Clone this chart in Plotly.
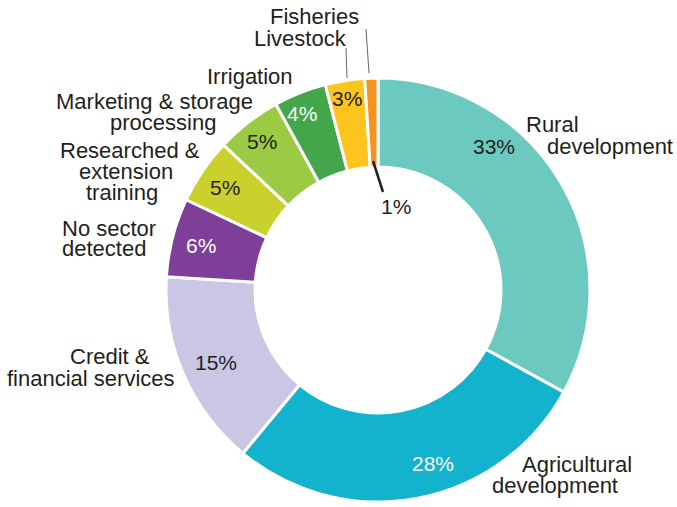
import plotly.graph_objects as go

# Share of spending by sector
sectors = [
    "Rural<br>development",
    "Agricultural<br>development",
    "Credit &<br>financial services",
    "No sector<br>detected",
    "Researched &<br>extension<br>training",
    "Marketing & storage<br>processing",
    "Irrigation",
    "Livestock",
    "Fisheries",
]
shares = [33, 28, 15, 6, 5, 5, 4, 3, 1]
colors = ["#6CC9BF", "#13B2CD", "#CAC7E4", "#7D3F98", "#CBD12C",
          "#9BCA43", "#44A64A", "#FDC41D", "#F6921E"]
pct_colors = ["#231F20", "#FFFFFF", "#231F20", "#FFFFFF", "#231F20",
              "#231F20", "#FFFFFF", "#231F20", "#231F20"]

W, H = 677, 507
CX, CY, R = 378, 290, 212

# Pixel positions of each line of the sector names
name_line_pos = [
    [(552, 124), (610, 146)],
    [(577, 464), (555, 485)],
    [(110, 356), (91, 378)],
    [(109, 228), (104, 248)],
    [(130, 151), (126, 172), (122, 193)],
    [(154, 101), (163, 122)],
    [(250, 76)],
    [(300, 39)],
    [(314, 17)],
]
# Pixel positions of the percentage labels
pct_pos = [(494, 146), (433, 463), (216, 362), (201, 245), (225, 187),
           (262, 141), (302, 113), (347, 98), (396, 206)]

# Leader lines (x0, y0, x1, y1, colour, width)
leaders = [
    (366, 29, 369, 73, "#666666", 1),
    (346, 48, 347, 78, "#666666", 1),
    (373, 161, 383, 192, "#231F20", 2.5),
]


def px(x):
    return x / W


def py(y):
    return 1 - y / H


FONT = "Liberation Sans, Arial, Helvetica, sans-serif"
TXT = "#231F20"

fig = go.Figure(go.Pie(
    labels=[s.replace("<br>", " ") for s in sectors],
    values=shares,
    hole=0.58,
    sort=False,
    direction="clockwise",
    rotation=0,
    marker=dict(colors=colors, line=dict(color="white", width=3)),
    textinfo="none",
    hoverinfo="label+percent",
    domain=dict(x=[px(CX - R), px(CX + R)], y=[py(CY + R), py(CY - R)]),
    showlegend=False,
))

annotations = []
for name, lines_pos in zip(sectors, name_line_pos):
    for line, (x, y) in zip(name.split("<br>"), lines_pos):
        annotations.append(dict(
            x=px(x), y=py(y), xref="paper", yref="paper",
            text=line, showarrow=False, xanchor="center", yanchor="middle",
            font=dict(family=FONT, size=22, color=TXT),
        ))
for v, c, (x, y) in zip(shares, pct_colors, pct_pos):
    annotations.append(dict(
        x=px(x), y=py(y), xref="paper", yref="paper",
        text=f"{v}%", showarrow=False, xanchor="center", yanchor="middle",
        font=dict(family=FONT, size=21, color=c),
    ))

shapes = [
    dict(type="line", xref="paper", yref="paper",
         x0=px(x0), y0=py(y0), x1=px(x1), y1=py(y1),
         line=dict(color=col, width=w))
    for x0, y0, x1, y1, col, w in leaders
]

fig.update_layout(
    width=W, height=H,
    margin=dict(l=0, r=0, t=0, b=0),
    paper_bgcolor="white", plot_bgcolor="white",
    annotations=annotations, shapes=shapes,
)

fig.write_html("out.html")
